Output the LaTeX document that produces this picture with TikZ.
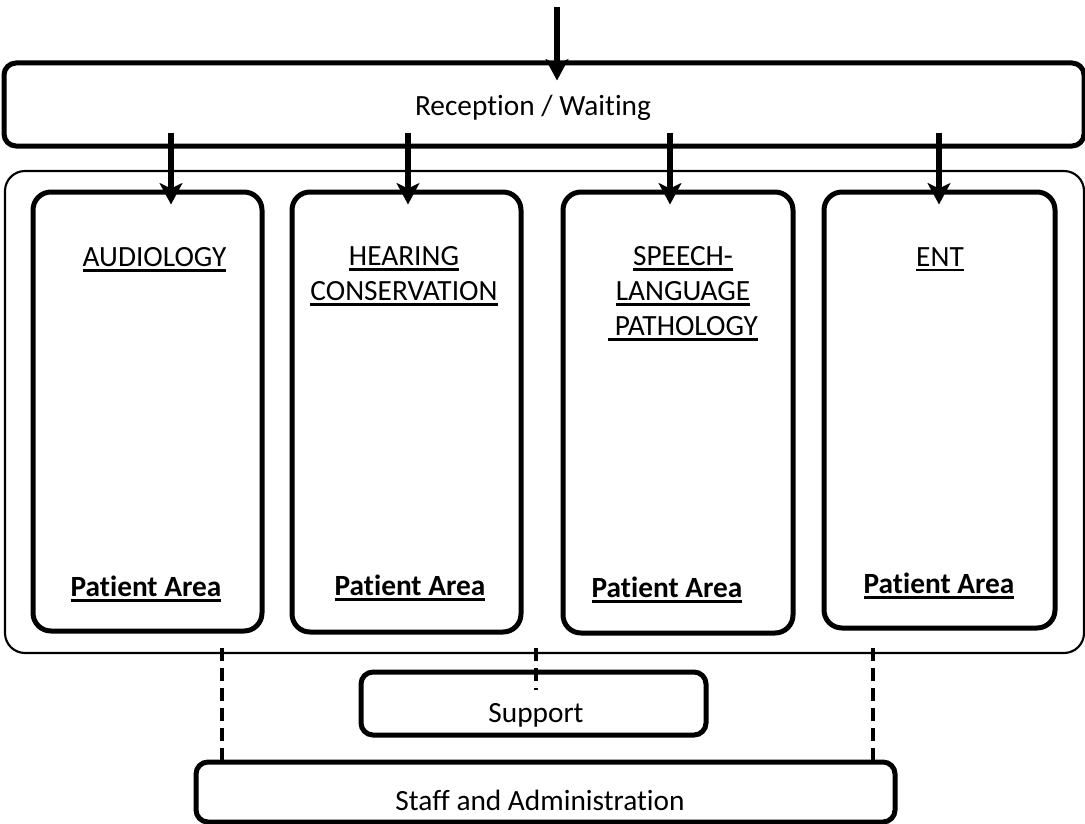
\documentclass[tikz,border=0pt]{standalone}
\usepackage{fontspec}
\setmainfont{Carlito}[Ligatures=NoCommon]
\usetikzlibrary{arrows.meta,calc}

\newcommand{\undl}[1]{\leavevmode\vtop{\hbox{#1}\kern2.2pt\hrule height1.8pt}}

\tikzset{
  dims/.style 2 args={minimum width=#1*0.75pt,minimum height=#2*0.75pt},
  room/.style={draw,line width=3.75pt,rounded corners=13.5pt,inner sep=0pt},
  hall/.style={draw,line width=3.75pt,rounded corners=9pt,inner sep=0pt},
  flow/.style={line width=4pt,-{Stealth[length=16pt,width=17pt,inset=4pt]}},
  dashlink/.style={line width=3.6pt,dash pattern=on 10pt off 5pt},
  roomtext/.style={inner sep=0pt,font=\fontsize{22}{26.25}\selectfont},
}

\begin{document}
\begin{tikzpicture}[x=0.75pt,y=0.75pt,yscale=-1,xscale=1]
    \useasboundingbox (0,0) rectangle (1085,824);

    %Shape: Reception / Waiting
    \node[hall,dims={1080}{83}] (rec) at (544,104.5) {};
    %Shape: clinic outline
    \node[draw,line width=1.6pt,rounded corners=15pt,inner sep=0pt,dims={1079}{482}] (clinic) at (544.5,412) {};
    %Shape: rooms
    \node[room,dims={229}{439}] (aud) at (147.5,411.5) {};
    \node[room,dims={229}{440}] (hc) at (406.5,412) {};
    \node[room,dims={230}{441}] (slp) at (678,412.5) {};
    \node[room,dims={231}{436}] (ent) at (939.5,410) {};
    %Shape: Support
    \node[hall,dims={345}{63}] (sup) at (533.5,703.5) {};
    %Shape: Staff and Administration
    \node[hall,dims={699}{60}] (staff) at (545.5,792) {};

    %Arrows
    \coordinate (door) at (557,7);
    \draw[flow] (door) -- ($(door |- rec.north)+(0,20)$);
    \foreach \x/\r in {171/aud,408/hc,670/slp,939/ent}
        \draw[flow] ($(\x,0 |- rec.south)+(0,-16)$) -- ($(\x,0 |- \r.north)+(0,15)$);

    %Dashed Lines
    \draw[dashlink] ($(222,0 |- clinic.south)+(0,-6)$) -- ($(222,0 |- staff.north)+(0,6)$);
    \draw[dashlink] ($(536,0 |- clinic.south)+(0,-6)$) -- ($(536,0 |- sup.north)+(0,20)$);
    \draw[dashlink] ($(873,0 |- clinic.south)+(0,-6)$) -- ($(873,0 |- staff.north)+(0,6)$);

    % Text Node
    \node[roomtext,anchor=base] (rect) at (533,115) {Reception / Waiting};
    % Text Node
    \node[roomtext,anchor=north] (audt) at (154.5,247) {\undl{AUDIOLOGY}};
    % Text Node
    \node[roomtext,anchor=north,align=center] (hct) at (404,246) {\undl{HEARING}\\\undl{CONSERVATION}};
    % Text Node
    \node[roomtext,anchor=north,align=center] (slpt) at (683,246) {\undl{SPEECH-}\\\undl{LANGUAGE}\\\undl{\ PATHOLOGY}};
    % Text Node
    \node[roomtext,anchor=north] (entt) at (940,247) {\undl{ENT}};
    % Text Node
    \foreach \x/\y/\r in {146/596/aud,410/595/hc,667/597/slp,939/593/ent}
        \node[roomtext,anchor=base] (\r-pa) at (\x,\y) {\bfseries\undl{Patient Area}};
    % Text Node
    \node[roomtext,anchor=base] (supt) at (536,722) {Support};
    % Text Node
    \node[roomtext,anchor=base] (stafft) at (540,810) {Staff and Administration};

\end{tikzpicture}
\end{document}
